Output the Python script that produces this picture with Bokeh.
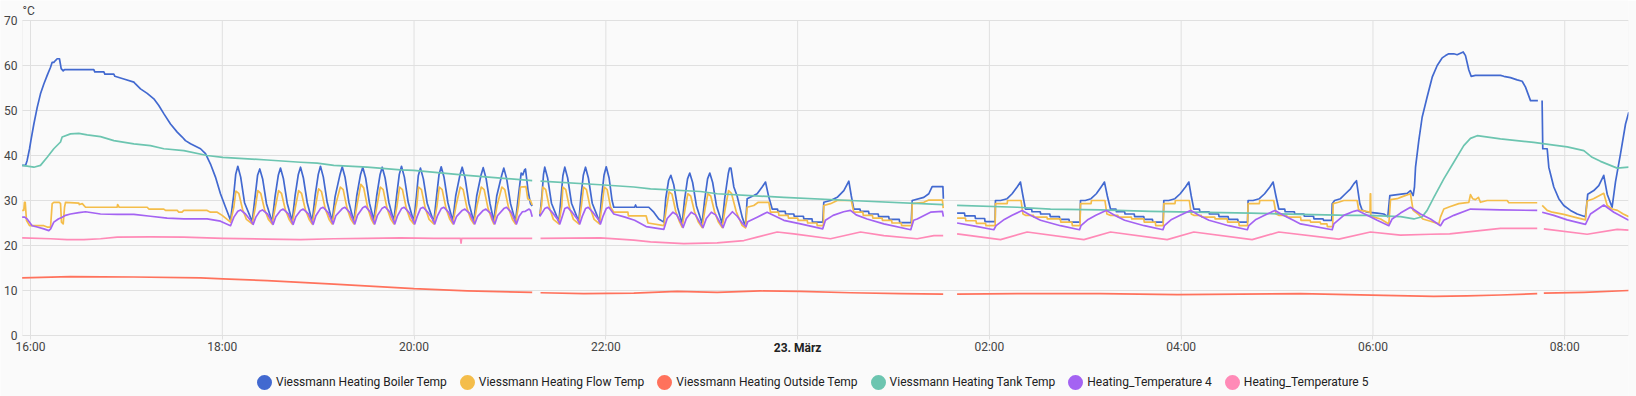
import numpy as np
from bokeh.plotting import figure
from bokeh.models import Range1d, FixedTicker, Legend, LegendItem, Label, BoxAnnotation
from bokeh.embed import file_html
from bokeh.resources import INLINE

# time axis: hours after 16:00 (22 March), values in °C; None = gap in the record
tick_hours = [0, 2, 4, 6, 8, 10, 12, 14, 16]
tick_labels = ["16:00", "18:00", "20:00", "22:00", "", "02:00", "04:00", "06:00", "08:00"]
day_label = "23. März"
day_hour = 8
y_ticks = [0, 10, 20, 30, 40, 50, 60, 70]
x_start, x_end = -0.0834, 16.665

names = ["Viessmann Heating Boiler Temp", "Viessmann Heating Flow Temp",
         "Viessmann Heating Outside Temp", "Viessmann Heating Tank Temp",
         "Heating_Temperature 4", "Heating_Temperature 5"]
colors = ["#4269d0", "#f4bd4a", "#ff725c", "#6cc5b0", "#a463f2", "#ff8ab7"]

boiler = [
    (-0.087, 37.8), (-0.052, 37.8), (-0.035, 38.9), (-0.010, 41.5), (0.004, 43.3), (0.035, 47.0),
    (0.070, 50.7), (0.104, 53.7), (0.139, 55.9), (0.174, 57.8), (0.209, 59.6), (0.226, 60.7),
    (0.243, 60.7), (0.260, 61.1), (0.278, 61.5), (0.302, 61.5), (0.320, 59.3), (0.341, 58.8),
    (0.355, 59.1), (0.660, 59.1), (0.670, 58.6), (0.765, 58.6), (0.775, 58.1), (0.869, 58.1),
    (0.880, 57.6), (0.973, 57.0), (1.078, 56.3), (1.095, 55.9), (1.147, 54.8), (1.217, 53.8),
    (1.286, 52.6), (1.338, 51.1), (1.390, 49.3), (1.460, 47.0), (1.530, 45.2), (1.582, 44.1),
    (1.616, 43.3), (1.669, 42.6), (1.773, 41.5), (1.825, 40.4), (1.877, 38.1), (1.929, 35.2),
    (1.981, 31.5), (2.034, 28.5), (2.086, 25.6),
    (2.118, 31.0), (2.140, 35.8), (2.162, 37.6), (2.192, 35.2), (2.232, 29.5), (2.312, 25.3),
    (2.342, 30.8), (2.368, 35.6), (2.391, 37.0), (2.421, 34.8), (2.461, 29.3), (2.520, 25.2),
    (2.550, 30.8), (2.584, 35.6), (2.607, 37.2), (2.637, 34.9), (2.677, 29.4), (2.729, 25.4),
    (2.759, 31.0), (2.793, 35.8), (2.816, 37.4), (2.846, 35.0), (2.886, 29.5), (2.938, 25.3),
    (2.968, 31.0), (3.001, 35.8), (3.024, 37.6), (3.054, 35.2), (3.094, 29.6), (3.146, 25.4),
    (3.176, 30.8), (3.228, 35.8), (3.251, 37.5), (3.281, 35.1), (3.321, 29.5), (3.372, 25.3),
    (3.402, 31.0), (3.442, 35.8), (3.465, 37.4), (3.495, 35.0), (3.535, 29.4), (3.580, 25.6),
    (3.610, 31.0), (3.645, 35.7), (3.668, 37.4), (3.698, 35.0), (3.738, 29.5), (3.789, 25.4),
    (3.819, 31.2), (3.846, 35.8), (3.869, 37.6), (3.899, 35.2), (3.939, 29.6), (3.997, 25.3),
    (4.025, 31.0), (4.044, 35.5), (4.067, 37.2), (4.097, 34.8), (4.137, 29.4), (4.206, 25.2),
    (4.236, 31.2), (4.260, 35.7), (4.283, 37.5), (4.313, 35.1), (4.353, 29.5), (4.404, 25.4),
    (4.434, 31.0), (4.479, 35.7), (4.502, 37.4), (4.532, 35.0), (4.572, 29.4), (4.623, 25.3),
    (4.653, 31.0), (4.698, 35.6), (4.721, 37.3), (4.751, 34.9), (4.791, 29.4), (4.832, 25.4),
    (4.862, 31.0), (4.913, 35.5), (4.936, 37.2), (4.966, 34.8), (5.006, 29.3), (5.058, 25.3),
    (5.088, 31.0), (5.117, 36.1), (5.135, 35.7), (5.152, 36.8), (5.162, 37.0), (5.190, 32.0),
    (5.214, 29.3), (5.232, 28.8),
    None,
    (5.312, 26.5), (5.335, 31.5), (5.350, 35.8), (5.363, 37.4), (5.393, 35.0), (5.433, 29.4), (5.510, 25.3),
    (5.532, 30.5), (5.552, 35.5), (5.572, 37.4), (5.602, 35.0), (5.642, 29.4), (5.718, 25.3),
    (5.740, 30.8), (5.765, 35.6), (5.788, 37.4), (5.818, 35.0), (5.858, 29.4), (5.934, 25.3),
    (5.956, 30.8), (5.981, 35.6), (6.004, 37.5), (6.034, 35.0), (6.065, 30.0), (6.083, 28.5),
    (6.300, 28.5), (6.310, 29.0), (6.320, 28.5), (6.448, 28.5), (6.500, 27.4), (6.552, 25.9), (6.605, 25.2),
    (6.625, 30.5), (6.655, 34.5), (6.678, 35.6), (6.708, 33.5), (6.748, 28.5), (6.796, 24.8),
    (6.820, 30.0), (6.852, 34.8), (6.875, 36.1), (6.905, 34.0), (6.945, 28.8), (7.004, 24.9),
    (7.030, 30.0), (7.061, 34.8), (7.084, 36.1), (7.114, 34.0), (7.154, 28.8), (7.213, 24.9),
    (7.240, 30.5), (7.277, 36.0), (7.290, 37.2), (7.305, 37.2), (7.335, 33.0), (7.369, 31.0),
    (7.422, 26.3), (7.456, 24.2),
    (7.474, 30.4), (7.543, 31.1), (7.578, 31.5), (7.630, 33.0), (7.665, 34.1), (7.700, 30.7), (7.735, 28.1),
    (7.790, 28.1), (7.795, 27.6), (7.870, 27.6), (7.875, 27.0), (7.960, 27.0), (7.965, 26.5),
    (8.060, 26.5), (8.065, 25.9), (8.150, 25.9), (8.155, 25.2), (8.262, 25.2),
    (8.273, 29.6), (8.343, 30.0), (8.413, 30.7), (8.482, 32.2), (8.534, 34.3), (8.560, 31.0), (8.586, 28.1),
    (8.650, 28.1), (8.655, 27.6), (8.740, 27.6), (8.745, 27.0), (8.840, 27.0), (8.845, 26.4),
    (8.950, 26.4), (8.955, 25.8), (9.060, 25.8), (9.065, 25.1), (9.185, 25.1),
    (9.195, 30.0), (9.316, 30.7), (9.368, 31.5), (9.403, 33.1), (9.515, 33.1), (9.520, 30.4),
    None,
    (9.663, 27.2), (9.740, 27.2), (9.745, 26.6), (9.850, 26.6), (9.855, 26.0), (9.950, 26.0),
    (9.955, 25.3), (10.060, 25.3),
    (10.063, 30.0), (10.116, 30.0), (10.185, 30.4), (10.237, 31.5), (10.289, 33.0), (10.324, 34.1),
    (10.350, 31.0), (10.376, 28.1),
    (10.440, 28.1), (10.445, 27.5), (10.530, 27.5), (10.535, 27.0), (10.630, 27.0), (10.635, 26.4),
    (10.730, 26.4), (10.735, 25.8), (10.830, 25.8), (10.835, 25.2), (10.945, 25.2),
    (10.950, 30.0), (11.000, 30.0), (11.060, 30.4), (11.115, 31.5), (11.165, 33.0), (11.200, 34.1),
    (11.230, 31.0), (11.263, 28.1),
    (11.320, 28.1), (11.325, 27.5), (11.410, 27.5), (11.415, 27.0), (11.510, 27.0), (11.515, 26.4),
    (11.610, 26.4), (11.615, 25.8), (11.700, 25.8), (11.705, 25.2), (11.812, 25.2),
    (11.819, 30.0), (11.870, 30.0), (11.935, 30.4), (11.990, 31.5), (12.045, 33.0), (12.080, 34.1),
    (12.105, 31.0), (12.132, 28.1),
    (12.190, 28.1), (12.195, 27.5), (12.290, 27.5), (12.295, 27.0), (12.390, 27.0), (12.395, 26.4),
    (12.490, 26.4), (12.495, 25.8), (12.590, 25.8), (12.595, 25.2), (12.692, 25.2),
    (12.698, 30.0), (12.750, 30.0), (12.815, 30.4), (12.870, 31.5), (12.925, 33.0), (12.959, 34.1),
    (12.988, 31.0), (13.018, 28.1),
    (13.080, 28.1), (13.085, 27.5), (13.180, 27.5), (13.185, 27.0), (13.280, 27.0), (13.285, 26.5),
    (13.380, 26.5), (13.385, 25.9), (13.480, 25.9), (13.485, 25.6), (13.570, 25.6),
    (13.575, 29.3), (13.600, 30.0), (13.661, 30.4), (13.713, 31.5), (13.766, 32.6), (13.800, 33.7),
    (13.828, 34.4), (13.863, 29.3), (13.887, 27.9), (13.940, 27.4), (14.044, 27.2), (14.113, 27.0),
    (14.155, 26.4),
    (14.176, 31.1), (14.253, 31.3), (14.357, 31.6), (14.391, 32.2), (14.419, 31.1), (14.433, 33.0),
    (14.444, 37.4), (14.478, 43.3), (14.513, 48.5), (14.565, 53.0), (14.618, 57.4), (14.670, 60.0),
    (14.704, 61.1), (14.722, 61.7), (14.757, 62.2), (14.791, 62.6), (14.843, 62.6), (14.878, 62.4),
    (14.941, 63.0), (14.965, 62.2), (15.000, 59.0), (15.024, 57.6), (15.069, 57.8), (15.330, 57.8),
    (15.365, 57.6), (15.434, 57.3), (15.504, 56.8), (15.556, 56.5), (15.591, 55.2), (15.643, 52.2),
    (15.720, 52.2),
    None,
    (15.764, 52.2), (15.771, 41.5), (15.817, 41.5), (15.834, 37.4), (15.886, 33.0), (15.938, 30.4),
    (15.990, 28.9), (16.060, 27.8), (16.130, 27.0), (16.216, 26.4), (16.240, 31.4), (16.303, 32.2),
    (16.355, 33.3), (16.407, 35.6), (16.443, 31.4), (16.494, 28.5), (16.529, 34.1), (16.582, 40.4),
    (16.634, 47.0), (16.668, 49.6),
]

flow = [
    (-0.087, 27.8), (-0.070, 27.8), (-0.063, 29.6), (-0.055, 29.6), (-0.042, 25.6), (-0.010, 24.4),
    (0.139, 24.4), (0.174, 24.1), (0.209, 24.1), (0.226, 29.3), (0.243, 29.6), (0.300, 29.6),
    (0.313, 29.3), (0.323, 25.2), (0.341, 24.8), (0.355, 28.5), (0.365, 29.6), (0.504, 29.4),
    (0.510, 29.1), (0.540, 29.3), (0.574, 28.5), (0.904, 28.5), (0.908, 29.1), (0.925, 28.5),
    (1.217, 28.5), (1.234, 28.1), (1.390, 28.1), (1.408, 27.8), (1.530, 27.8), (1.547, 27.4),
    (1.580, 27.4), (1.599, 27.8), (1.842, 27.8), (1.877, 27.4), (1.947, 27.4), (1.999, 26.7),
    (2.086, 25.2),
    (2.120, 28.5), (2.142, 32.1), (2.172, 31.6), (2.212, 28.0), (2.252, 25.8), (2.312, 24.8),
    (2.345, 28.5), (2.371, 32.2), (2.401, 31.6), (2.441, 28.0), (2.481, 25.8), (2.520, 24.8),
    (2.553, 28.5), (2.587, 32.2), (2.617, 31.6), (2.657, 28.0), (2.697, 25.8), (2.729, 24.8),
    (2.762, 28.5), (2.796, 32.2), (2.826, 31.6), (2.866, 28.0), (2.906, 25.8), (2.938, 24.8),
    (2.971, 28.6), (3.004, 32.6), (3.034, 32.0), (3.074, 28.2), (3.114, 25.8), (3.146, 24.8),
    (3.179, 28.8), (3.231, 33.0), (3.261, 32.4), (3.301, 28.3), (3.341, 25.8), (3.372, 24.8),
    (3.405, 29.0), (3.445, 33.6), (3.475, 32.8), (3.515, 28.5), (3.555, 25.8), (3.580, 24.8),
    (3.613, 28.8), (3.648, 33.0), (3.678, 32.4), (3.718, 28.3), (3.758, 25.8), (3.789, 24.8),
    (3.822, 28.8), (3.849, 33.0), (3.879, 32.4), (3.919, 28.3), (3.959, 25.8), (3.997, 24.8),
    (4.028, 28.8), (4.047, 33.0), (4.077, 32.4), (4.117, 28.3), (4.157, 25.8), (4.206, 24.8),
    (4.239, 28.8), (4.263, 33.0), (4.293, 32.4), (4.333, 28.3), (4.373, 25.8), (4.404, 24.8),
    (4.437, 28.8), (4.482, 33.0), (4.512, 32.4), (4.552, 28.3), (4.592, 25.8), (4.623, 24.8),
    (4.656, 28.8), (4.701, 33.0), (4.731, 32.4), (4.771, 28.3), (4.811, 25.8), (4.832, 24.8),
    (4.865, 28.8), (4.916, 33.0), (4.946, 32.4), (4.986, 28.3), (5.026, 25.8), (5.058, 24.8),
    (5.090, 29.0), (5.110, 33.0), (5.167, 33.1), (5.185, 30.4), (5.214, 30.0), (5.232, 29.0),
    None,
    (5.312, 27.0), (5.330, 29.0), (5.343, 33.0), (5.373, 32.4), (5.413, 28.3), (5.453, 25.8), (5.510, 24.8),
    (5.540, 28.8), (5.552, 33.0), (5.582, 32.4), (5.622, 28.3), (5.662, 25.8), (5.718, 24.8),
    (5.745, 28.8), (5.768, 33.0), (5.798, 32.4), (5.838, 28.3), (5.878, 25.8), (5.934, 24.8),
    (5.960, 28.8), (5.984, 33.0), (6.014, 32.4), (6.050, 28.5), (6.083, 27.4),
    (6.230, 27.4), (6.235, 26.6), (6.420, 26.6), (6.440, 25.0), (6.605, 24.4),
    (6.630, 28.0), (6.660, 31.9), (6.690, 31.4), (6.730, 27.5), (6.770, 25.2), (6.796, 24.1),
    (6.825, 28.0), (6.855, 31.5), (6.885, 31.0), (6.925, 27.5), (6.965, 25.2), (7.004, 24.0),
    (7.033, 28.0), (7.064, 31.5), (7.094, 31.0), (7.134, 27.5), (7.174, 25.2), (7.213, 24.0),
    (7.243, 28.0), (7.280, 32.2), (7.310, 31.6), (7.360, 27.5), (7.420, 24.5), (7.456, 23.9),
    (7.474, 28.5), (7.543, 28.9), (7.590, 29.6), (7.700, 29.6), (7.717, 27.4),
    (7.800, 27.4), (7.805, 26.7), (7.900, 26.7), (7.905, 26.1), (8.000, 26.1), (8.005, 25.6),
    (8.100, 25.6), (8.105, 25.0), (8.200, 25.0), (8.205, 24.4), (8.268, 24.4),
    (8.273, 28.9), (8.343, 29.3), (8.413, 30.0), (8.560, 30.0), (8.586, 27.4),
    (8.680, 27.4), (8.685, 26.7), (8.780, 26.7), (8.785, 26.1), (8.880, 26.1), (8.885, 25.6),
    (8.980, 25.6), (8.985, 25.0), (9.080, 25.0), (9.085, 24.4), (9.190, 24.4),
    (9.195, 29.3), (9.316, 29.6), (9.368, 30.1), (9.510, 30.1), (9.518, 28.3),
    None,
    (9.663, 26.1), (9.750, 26.1), (9.755, 25.5), (9.860, 25.5), (9.865, 24.9), (9.960, 24.9),
    (9.965, 24.4), (10.060, 24.4),
    (10.063, 29.3), (10.185, 29.3), (10.190, 30.0), (10.330, 30.0), (10.350, 27.0), (10.376, 26.7),
    (10.460, 26.7), (10.465, 26.3), (10.600, 26.3), (10.605, 25.9), (10.740, 25.9), (10.745, 25.2),
    (10.860, 25.2), (10.865, 24.4), (10.945, 24.4),
    (10.950, 29.3), (11.060, 29.3), (11.065, 30.0), (11.205, 30.0), (11.225, 27.0), (11.263, 26.7),
    (11.340, 26.7), (11.345, 26.3), (11.480, 26.3), (11.485, 25.9), (11.610, 25.9), (11.615, 25.2),
    (11.730, 25.2), (11.735, 24.4), (11.812, 24.4),
    (11.819, 29.3), (11.935, 29.3), (11.940, 30.0), (12.085, 30.0), (12.105, 27.0), (12.132, 26.7),
    (12.210, 26.7), (12.215, 26.3), (12.350, 26.3), (12.355, 25.9), (12.480, 25.9), (12.485, 25.2),
    (12.600, 25.2), (12.605, 24.4), (12.692, 24.4),
    (12.698, 29.3), (12.815, 29.3), (12.820, 30.0), (12.965, 30.0), (12.990, 27.0), (13.018, 26.7),
    (13.100, 26.7), (13.105, 26.3), (13.245, 26.3), (13.250, 25.6), (13.345, 25.6), (13.350, 25.2),
    (13.450, 25.2), (13.455, 24.8), (13.520, 24.8), (13.525, 24.2), (13.580, 24.2),
    (13.585, 29.3), (13.640, 29.6), (13.696, 30.0), (13.835, 30.0), (13.850, 28.0), (13.870, 27.8),
    (13.970, 27.4), (13.972, 31.5), (13.976, 31.5), (13.978, 26.7), (14.009, 26.3), (14.080, 25.9),
    (14.166, 24.8), (14.183, 30.2), (14.253, 30.4), (14.300, 30.8), (14.391, 31.5), (14.419, 27.8),
    (14.470, 27.0), (14.520, 25.9), (14.600, 25.4), (14.687, 24.8), (14.704, 26.3), (14.739, 28.1),
    (14.800, 28.6), (14.895, 29.3), (15.000, 29.6), (15.017, 31.3), (15.040, 30.4), (15.069, 30.2),
    (15.100, 30.7), (15.121, 29.6), (15.191, 30.0), (15.400, 30.0), (15.417, 29.5), (15.713, 29.5),
    None,
    (15.765, 28.9), (15.817, 27.8), (15.870, 27.4), (15.990, 26.9), (16.100, 26.3), (16.216, 25.7),
    (16.234, 29.9), (16.300, 30.4), (16.407, 31.6), (16.443, 28.9), (16.494, 28.1), (16.550, 27.8),
    (16.610, 27.0), (16.668, 26.4),
]

outside = [
    (-0.087, 12.8), (0.417, 13.1), (1.078, 13.0), (1.773, 12.8), (2.006, 12.6), (2.468, 12.2),
    (3.163, 11.4), (3.859, 10.6), (3.997, 10.4), (4.554, 9.9), (5.232, 9.6),
    None,
    (5.319, 9.5), (5.770, 9.3), (6.292, 9.4), (6.744, 9.8), (7.161, 9.6), (7.613, 9.9),
    (8.030, 9.8), (8.551, 9.5), (9.073, 9.3), (9.518, 9.2),
    None,
    (9.663, 9.2), (10.290, 9.3), (11.158, 9.3), (11.960, 9.1), (13.244, 9.3), (14.113, 8.9),
    (14.635, 8.7), (14.982, 8.8), (15.330, 9.0), (15.713, 9.3),
    None,
    (15.782, 9.4), (16.199, 9.6), (16.668, 10.0),
]

tank = [
    (-0.087, 37.8), (0.035, 37.4), (0.104, 37.8), (0.174, 39.6), (0.243, 41.5), (0.313, 43.0),
    (0.330, 44.1), (0.417, 44.8), (0.504, 44.9), (0.591, 44.6), (0.730, 44.2), (0.869, 43.3),
    (1.078, 42.6), (1.251, 42.2), (1.390, 41.5), (1.599, 41.1), (1.842, 40.0), (2.006, 39.6),
    (2.468, 39.0), (2.816, 38.5), (2.990, 38.3), (3.163, 37.8), (3.511, 37.4), (3.859, 36.8),
    (3.997, 36.7), (4.554, 35.6), (5.232, 34.4),
    None,
    (5.319, 34.3), (5.944, 33.5), (6.292, 33.0), (6.466, 32.6), (6.987, 32.0), (7.161, 31.5),
    (7.856, 30.7), (8.551, 30.0), (9.518, 29.1),
    None,
    (9.663, 28.9), (10.290, 28.5), (10.637, 28.1), (11.158, 27.9), (11.680, 27.6), (12.723, 27.2),
    (13.244, 26.9), (13.766, 26.7), (13.940, 26.7), (14.287, 26.4), (14.426, 25.9), (14.513, 26.4),
    (14.565, 27.8), (14.635, 30.7), (14.739, 34.8), (14.843, 38.5), (14.947, 42.2), (15.017, 43.8),
    (15.087, 44.4), (15.330, 43.7), (15.677, 42.9), (15.886, 42.3), (16.026, 41.9), (16.199, 41.1),
    (16.286, 39.6), (16.373, 38.7), (16.547, 37.2), (16.668, 37.4),
]

temp4 = [
    (-0.087, 26.3), (-0.060, 26.3), (-0.035, 25.9), (0.017, 24.4), (0.070, 24.1), (0.139, 23.7),
    (0.191, 23.3), (0.210, 23.7), (0.243, 25.2), (0.290, 25.9), (0.330, 26.3), (0.365, 26.7),
    (0.417, 27.0), (0.504, 27.3), (0.574, 27.5), (0.730, 27.0), (0.904, 26.9), (1.078, 26.9),
    (1.251, 26.5), (1.425, 26.1), (1.599, 25.9), (1.842, 25.9), (1.981, 25.4), (2.086, 24.4),
    (2.121, 26.3), (2.162, 27.6), (2.190, 27.9), (2.242, 27.0), (2.294, 25.6), (2.322, 24.7),
    (2.350, 26.3), (2.391, 27.6), (2.419, 27.9), (2.471, 27.0), (2.510, 25.6), (2.530, 24.7),
    (2.558, 26.4), (2.607, 27.8), (2.635, 28.1), (2.687, 27.1), (2.718, 25.7), (2.739, 24.7),
    (2.767, 26.4), (2.816, 27.8), (2.844, 28.1), (2.896, 27.1), (2.927, 25.7), (2.948, 24.7),
    (2.976, 26.6), (3.024, 28.2), (3.052, 28.5), (3.104, 27.3), (3.135, 25.8), (3.156, 24.8),
    (3.184, 26.6), (3.251, 28.2), (3.279, 28.5), (3.331, 27.3), (3.360, 25.8), (3.382, 24.8),
    (3.410, 26.7), (3.465, 28.4), (3.493, 28.7), (3.545, 27.4), (3.568, 25.9), (3.590, 24.8),
    (3.618, 26.7), (3.668, 28.3), (3.696, 28.6), (3.748, 27.4), (3.777, 25.9), (3.799, 24.8),
    (3.827, 26.6), (3.869, 28.2), (3.897, 28.5), (3.949, 27.3), (3.985, 25.8), (4.007, 24.8),
    (4.035, 26.6), (4.067, 28.2), (4.095, 28.5), (4.147, 27.3), (4.194, 25.8), (4.216, 24.8),
    (4.244, 26.6), (4.283, 28.2), (4.311, 28.5), (4.363, 27.3), (4.392, 25.8), (4.414, 24.8),
    (4.442, 26.4), (4.502, 27.8), (4.530, 28.1), (4.582, 27.1), (4.611, 25.7), (4.633, 24.8),
    (4.661, 26.4), (4.721, 27.8), (4.749, 28.1), (4.801, 27.1), (4.820, 25.7), (4.842, 24.8),
    (4.870, 26.6), (4.936, 28.2), (4.964, 28.5), (5.016, 27.3), (5.046, 25.8), (5.068, 24.8),
    (5.096, 26.5), (5.130, 27.5), (5.160, 27.6), (5.200, 28.1), (5.214, 27.8), (5.232, 26.4),
    None,
    (5.312, 26.5), (5.363, 28.2), (5.391, 28.5), (5.443, 27.3), (5.498, 25.8), (5.520, 24.8),
    (5.548, 26.6), (5.572, 28.2), (5.600, 28.5), (5.652, 27.3), (5.706, 25.8), (5.728, 24.8),
    (5.756, 26.6), (5.788, 28.2), (5.816, 28.5), (5.868, 27.3), (5.922, 25.8), (5.944, 24.8),
    (5.972, 26.6), (6.004, 28.2), (6.032, 28.5), (6.083, 27.0), (6.200, 26.3), (6.300, 25.6),
    (6.420, 24.2), (6.605, 23.6),
    (6.640, 26.0), (6.700, 27.4), (6.740, 26.8), (6.790, 24.8), (6.806, 24.0),
    (6.840, 26.0), (6.890, 27.4), (6.935, 26.8), (6.990, 24.8), (7.014, 24.0),
    (7.048, 26.0), (7.100, 27.4), (7.145, 26.8), (7.200, 24.8), (7.223, 24.0),
    (7.257, 26.0), (7.320, 27.5), (7.370, 26.5), (7.430, 24.8), (7.461, 24.2),
    (7.480, 25.3), (7.578, 26.3), (7.682, 27.4), (7.720, 27.0), (7.856, 25.6), (8.030, 24.8), (8.262, 23.7),
    (8.290, 25.6), (8.370, 26.7), (8.480, 27.5), (8.551, 27.8), (8.610, 26.8), (8.725, 25.9),
    (8.899, 24.8), (9.180, 23.5),
    (9.210, 25.6), (9.247, 25.9), (9.386, 27.4), (9.510, 27.6), (9.520, 26.4),
    None,
    (9.663, 25.0), (9.850, 24.3), (10.046, 23.5),
    (10.070, 24.4), (10.156, 25.8), (10.237, 26.7), (10.324, 27.6), (10.341, 27.8), (10.428, 26.7),
    (10.533, 25.6), (10.741, 24.4), (10.940, 23.5),
    (10.955, 24.4), (11.030, 25.8), (11.110, 26.7), (11.200, 27.6), (11.220, 27.8), (11.305, 26.7),
    (11.410, 25.6), (11.615, 24.4), (11.810, 23.5),
    (11.825, 24.4), (11.900, 25.8), (11.990, 26.7), (12.080, 27.6), (12.100, 27.8), (12.185, 26.7),
    (12.290, 25.6), (12.495, 24.4), (12.690, 23.5),
    (12.705, 24.4), (12.780, 25.8), (12.870, 26.7), (12.959, 27.6), (12.979, 27.8), (13.065, 26.7),
    (13.170, 25.6), (13.244, 24.8), (13.575, 23.5),
    (13.592, 24.8), (13.696, 26.7), (13.800, 27.6), (13.840, 27.8), (13.940, 26.7), (14.044, 25.6),
    (14.166, 24.4), (14.200, 25.9), (14.287, 27.2), (14.391, 28.5), (14.495, 27.0), (14.600, 25.9),
    (14.704, 24.4), (14.739, 25.6), (14.843, 26.7), (15.017, 28.1), (15.330, 27.9), (15.713, 27.8),
    None,
    (15.765, 27.4), (15.886, 26.7), (16.026, 25.7), (16.216, 24.7), (16.268, 27.0), (16.407, 29.0),
    (16.512, 27.4), (16.668, 25.6),
]

temp5 = [
    (-0.087, 21.7), (0.209, 21.5), (0.382, 21.3), (0.556, 21.3), (0.730, 21.5), (0.904, 21.85),
    (1.251, 21.9), (1.599, 21.85), (2.006, 21.6), (2.468, 21.4), (2.816, 21.3), (3.163, 21.5),
    (3.511, 21.6), (3.859, 21.7), (4.206, 21.6), (4.484, 21.6), (4.490, 20.5), (4.496, 21.6),
    (5.232, 21.6),
    None,
    (5.319, 21.6), (5.944, 21.7), (6.292, 21.2), (6.466, 20.8), (6.813, 20.4), (7.161, 20.6),
    (7.440, 21.1), (7.578, 21.85), (7.787, 23.0), (7.960, 22.6), (8.343, 21.5), (8.656, 23.0),
    (8.899, 22.2), (9.247, 21.5), (9.421, 22.2), (9.518, 22.2),
    None,
    (9.663, 22.6), (10.116, 21.3), (10.394, 23.0), (10.985, 21.3), (11.263, 23.0), (11.854, 21.3),
    (12.132, 23.0), (12.740, 21.3), (13.018, 23.0), (13.644, 21.4), (13.974, 23.0), (14.287, 22.3),
    (14.600, 22.5), (14.800, 22.6), (15.330, 23.8), (15.713, 23.8),
    None,
    (15.782, 23.7), (16.234, 22.5), (16.547, 23.6), (16.668, 23.4),
]

series = [boiler, flow, outside, tank, temp4, temp5]


def split(points):
    xs, ys = [], []
    for pt in points:
        if pt is None:
            xs.append(np.nan)
            ys.append(np.nan)
        else:
            xs.append(pt[0])
            ys.append(pt[1])
    return xs, ys


GRID = "#e0e0e0"
BG = "#fafafa"
FONT = "Roboto"
TICK_COLOR = "#444444"
TEXT_COLOR = "#212121"

# The frame covers the whole canvas (95.89 px per hour, 4.5 px per °C, 0 °C at 335 px
# from the top, 16:00 at 30 px from the left), so that the unit label, the tick labels
# and the legend all sit inside it around the grid box.
p = figure(width=1636, height=396, output_backend="svg", toolbar_location=None,
           x_range=Range1d(-0.3129, x_end), y_range=Range1d(-13.556, 74.444),
           min_border_left=0, min_border_right=8, min_border_top=0, min_border_bottom=0,
           background_fill_color=BG, border_fill_color=BG, outline_line_color=None)

# grid box: grid lines only inside 16:00..08:40 x 0..70 °C, plus the left/right edges
nx, ny = len(tick_hours), len(y_ticks)
p.segment(x0=tick_hours, y0=[y_ticks[0]] * nx, x1=tick_hours, y1=[y_ticks[-1]] * nx,
          line_color=GRID, line_width=1)
p.segment(x0=[x_start] * ny, y0=y_ticks, x1=[x_end] * ny, y1=y_ticks,
          line_color=GRID, line_width=1)
p.add_layout(BoxAnnotation(left=x_start, right=x_end, bottom=y_ticks[0], top=y_ticks[-1],
                           fill_alpha=0, line_color=GRID, line_width=1, level="underlay"))

for pts, col in zip(series, colors):
    xs, ys = split(pts)
    p.line(xs, ys, line_color=col, line_width=1.7, line_join="round")

xa = p.xaxis[0]
xa.fixed_location = 0
xa.ticker = FixedTicker(ticks=tick_hours)
xa.major_label_overrides = {h: lab for h, lab in zip(tick_hours, tick_labels)}
xa.minor_tick_line_color = None
xa.axis_line_color = None
xa.major_tick_line_color = GRID
xa.major_tick_out = 4
xa.major_tick_in = 0
xa.major_label_standoff = 1
xa.major_label_text_font = FONT
xa.major_label_text_font_size = "12px"
xa.major_label_text_color = TICK_COLOR

ya = p.yaxis[0]
ya.fixed_location = x_start
ya.ticker = FixedTicker(ticks=y_ticks)
ya.minor_tick_line_color = None
ya.major_tick_line_color = None
ya.major_tick_out = 0
ya.major_tick_in = 0
ya.axis_line_color = None
ya.major_label_standoff = 5
ya.major_label_text_font = FONT
ya.major_label_text_font_size = "12px"
ya.major_label_text_color = TICK_COLOR

p.xgrid.visible = False
p.ygrid.visible = False

p.add_layout(Label(x=day_hour, y=-2.82, text=day_label, text_font=FONT, text_font_size="12px",
                   text_font_style="bold", text_color=TEXT_COLOR, text_align="center",
                   text_baseline="middle"))
p.add_layout(Label(x=x_start, y=72.0, text="°C", text_font=FONT, text_font_size="12px",
                   text_color=TICK_COLOR, text_align="left", text_baseline="middle"))

# legend dots: the legend draws markers at 0.4 x glyph box; a thick outline in the same
# colour brings the dot to ~15 px while keeping the label close to it
items = []
for name, col in zip(names, colors):
    r = p.scatter([np.nan], [np.nan], marker="circle", size=10,
                  fill_color=col, line_color=col, line_width=5.4)
    items.append(LegendItem(label=name, renderers=[r]))

legend = Legend(items=items, orientation="horizontal", location=(252, 2),
                glyph_width=24, glyph_height=24, label_standoff=0, spacing=8,
                padding=0, margin=0, border_line_color=None, background_fill_alpha=0,
                label_text_font=FONT, label_text_font_size="12px", label_text_color=TEXT_COLOR)
p.add_layout(legend)

html = file_html(p, INLINE)
html = html.replace("<body>", '<body style="background:#fafafa">', 1)
open("out.html", "w").write(html)
